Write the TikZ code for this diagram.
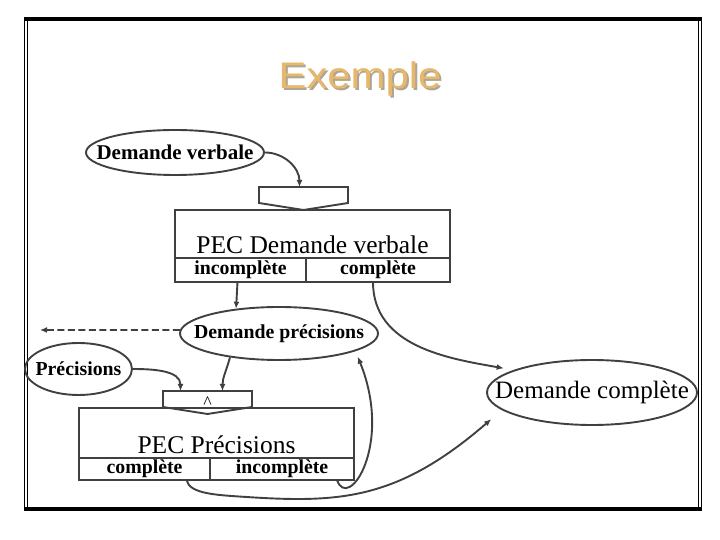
\documentclass[tikz,border=0pt]{standalone}
\usepackage{graphicx}
\usepackage{fontspec}
\setmainfont{Liberation Serif}
\newfontfamily\titlefont{Liberation Sans}
\usetikzlibrary{arrows.meta,shapes.geometric}

\definecolor{titletan}{RGB}{232,183,110}
\definecolor{titleshade}{RGB}{175,165,145}
\definecolor{linegray}{RGB}{64,64,64}

% text of an oval, kept from widening it
\newcommand{\snug}[1]{\makebox[0pt]{#1}}

\begin{document}
\begin{tikzpicture}[
    x=1pt, y=1pt,
    >={Latex[length=7pt,width=6pt]},
    line width=1.9pt,
    oval/.style={draw=linegray, ellipse, inner sep=0pt, font=\bfseries\fontsize{19.8}{22}\selectfont},
    pec/.style={draw=linegray, outer sep=0pt, inner sep=4pt, minimum width=275pt, text depth=0pt, font=\fontsize{25.5}{30}\selectfont},
    cell/.style={draw=linegray, outer sep=0pt, inner sep=0pt, font=\bfseries\fontsize{19.8}{22}\selectfont},
    gate/.style={outer sep=0pt, inner sep=0pt, minimum width=89pt, minimum height=16pt},
    link/.style={draw=linegray, ->}
]
\useasboundingbox (0,0) rectangle (720,540);

% frame
\draw[line width=4pt] (24,521) -- (702,521);
\draw[line width=4pt] (24,31) -- (702,31);
\draw[line width=1pt] (24.5,523) -- (24.5,29);
\draw[line width=1pt] (27.5,519) -- (27.5,33);
\draw[line width=1pt] (698.5,519) -- (698.5,33);
\draw[line width=1pt] (701.5,523) -- (701.5,29);

% title
\node[titleshade, anchor=base, font=\titlefont\fontsize{37}{40}\selectfont] (shade) at (362,449) {\scalebox{1.13}[1]{Exemple}};
\node[titletan, anchor=base, font=\titlefont\fontsize{37}{40}\selectfont] (title) at (360,451) {\scalebox{1.13}[1]{Exemple}};

% first stage
\node[oval, minimum width=178pt, minimum height=45pt, font=\bfseries\fontsize{21}{24}\selectfont] (dv) at (175,387.5) {\snug{Demande verbale}};
\node[gate] (gate1) at (303.5,345) {};
\node[pec, text height=40pt] (pec1) at (312.5,306) {PEC Demande verbale};
\node[cell, minimum width=131pt, minimum height=24pt, anchor=north west] (inc1) at (pec1.south west) {incomplète};
\node[cell, minimum width=144pt, minimum height=24pt, anchor=north west] (comp1) at (inc1.north east) {complète};

\node[oval, minimum width=198pt, minimum height=53pt] (dp) at (279,206.5) {\snug{Demande précisions}};
\node[oval, minimum width=107pt, minimum height=52pt] (pr) at (78.5,171) {\snug{Précisions}};

% second stage
\node[gate] (gate2) at (207.5,141) {};
\node[font=\fontsize{18}{20}\selectfont] (caret) at ([yshift=-4pt]gate2.center) {\textasciicircum};
\node[pec, text height=42pt] (pec2) at (216.5,107) {PEC Précisions};
\node[cell, minimum width=131pt, minimum height=22pt, anchor=north west] (cmp2) at (pec2.south west) {complète};
\node[cell, minimum width=144pt, minimum height=22pt, anchor=north west] (inc2) at (cmp2.north east) {incomplète};

\node[oval, minimum width=210pt, minimum height=65pt, font=\fontsize{25}{28}\selectfont] (dc) at (592,147.5) {\snug{Demande complète}};

\foreach \g in {gate1,gate2}
  \draw[linegray] (\g.north west) -- (\g.north east) -- (\g.south east) -- ([yshift=-7pt]\g.south) -- (\g.south west) -- cycle;

% links
\draw[link] (dv.east) to[out=0, in=90] ([xshift=-4pt]gate1.north);
\draw[link] ([xshift=-3pt]inc1.south) -- (dp.150);
\draw[link, shorten >=10pt] ([xshift=-5pt]comp1.south) to[out=-90, in=170] (dc.164);
\coordinate (away) at (40,210);
\draw[link, dash pattern=on 7pt off 3.5pt] (dp.178) -- (away);
\draw[link] (pr.east) to[out=0, in=90] ([xshift=-27pt]gate2.north);
\draw[link] (dp.206) to[out=-105, in=90] ([xshift=15pt]gate2.north);
\draw[link, shorten >=6pt] ([xshift=55pt]inc2.south) .. controls +(11,-32) and +(38,-94) .. (dp.-13);
\draw[link, shorten >=14pt] ([xshift=42pt]cmp2.south) .. controls +(3,-14) and +(-30,2) .. ++(60,-17)
  .. controls +(93.5,-6) and +(-104,-90) .. (dc.191);
\end{tikzpicture}
\end{document}
